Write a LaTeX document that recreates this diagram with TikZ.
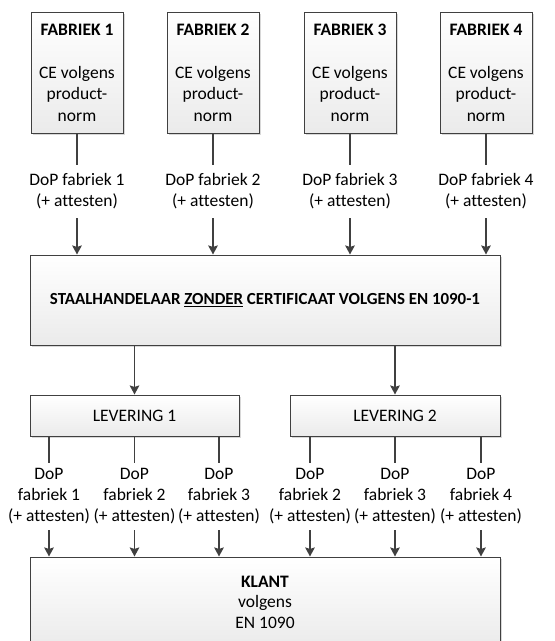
\documentclass[tikz,border=0pt]{standalone}
\usepackage{fontspec}
\setmainfont{Carlito}[Ligatures=NoCommon]
\usetikzlibrary{shadows,arrows.meta}
\definecolor{edge}{HTML}{404040}
\tikzset{
  box/.style={draw=edge, line width=1pt, top color=white, bottom color=black!8, align=center, inner sep=0pt,
    drop shadow={shadow xshift=2pt, shadow yshift=-2pt, fill=black!25, opacity=0.6},
    font=\fontsize{17.5}{21.5}\selectfont},
  lbl/.style={align=center, inner sep=0pt, font=\fontsize{17.5}{21}\selectfont},
  conn/.style={draw=edge, line width=1.8pt},
  arr/.style={conn, -{Stealth[length=9pt,width=9.5pt,inset=1.5pt]}}
}
\begin{document}
\begin{tikzpicture}[x=1pt,y=-1pt]
\useasboundingbox (0,0) rectangle (555,641);
\fill[white] (0,0) rectangle (555,641);
% factory boxes
\foreach \i/\x in {1/77,2/213,3/350,4/486}{
  \node[box, minimum width=92pt, minimum height=121pt] (f\i) at (\x,72.5)
    {\textbf{FABRIEK \i}\\ \\CE volgens\\product-\\norm};
  \node[lbl, minimum height=53pt] (d\i) at (\x,191.5) {DoP fabriek \i\\(+ attesten)};
}
\node[box, minimum width=470pt, minimum height=90pt, font=\fontsize{16.9}{20}\selectfont] (h) at (265,300)
  {\textbf{STAALHANDELAAR \underline{ZONDER} CERTIFICAAT VOLGENS EN 1090-1}};
\foreach \i in {1,2,3,4}{
  \draw[conn] (f\i.south) -- (d\i.north);
  \draw[arr] (d\i.south) -- (d\i.south |- h.north);
}
\node[box, minimum width=209pt, minimum height=41pt] (l1) at (134.5,415.5) {LEVERING 1};
\node[box, minimum width=210pt, minimum height=41pt] (l2) at (395,415.5) {LEVERING 2};
\draw[arr] (h.south -| l1.north) -- (l1.north);
\draw[arr] (h.south -| l2.north) -- (l2.north);
\node[box, minimum width=470pt, minimum height=90pt] (k) at (265,602)
  {\textbf{KLANT}\\[-1pt]volgens\\[-1pt]EN 1090};
% delivery labels
\foreach \n/\x/\f/\L in {a/49/1/l1, b/134.5/2/l1, c/219/3/l1, d/310/2/l2, e/395/3/l2, f/481/4/l2}{
  \node[lbl, minimum height=67pt] (q\n) at (\x,496.5) {DoP\\fabriek \f\\(+ attesten)};
  \draw[conn] (q\n.north |- \L.south) -- (q\n.north);
  \draw[arr] (q\n.south) -- (q\n.south |- k.north);
}
\end{tikzpicture}
\end{document}
